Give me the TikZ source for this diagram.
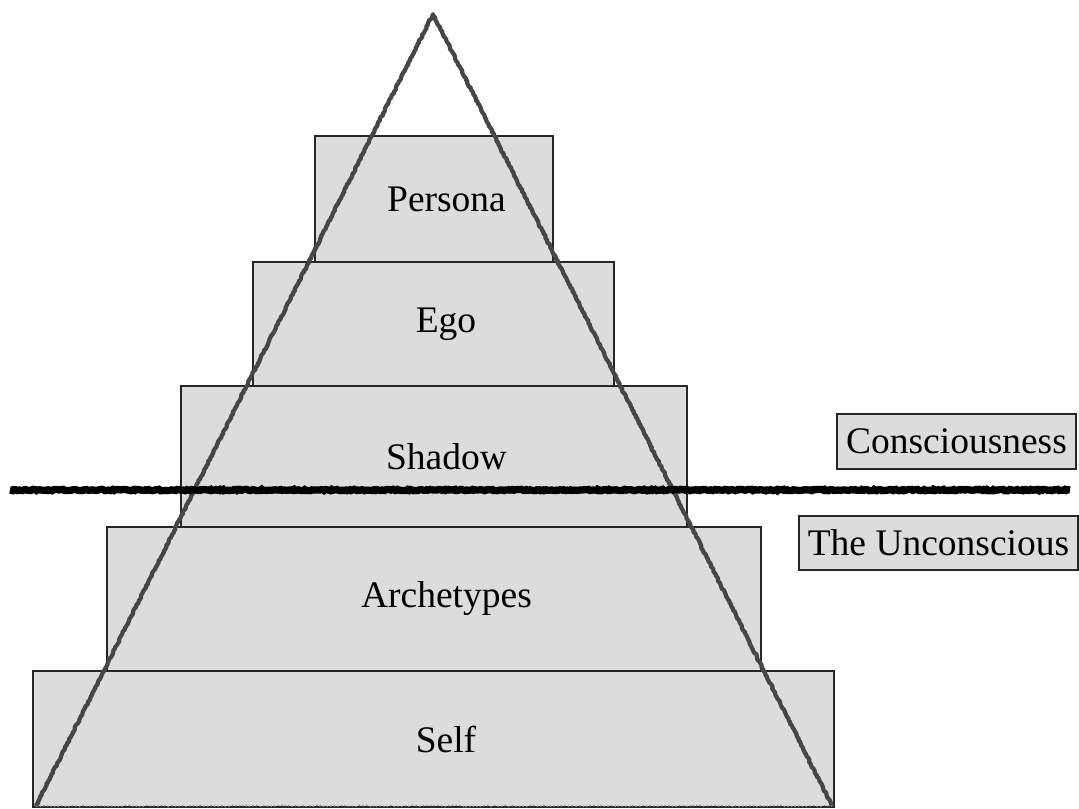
\documentclass[tikz,border=0pt]{standalone}
\usepackage{fontspec}
\setmainfont{Liberation Serif}
\usetikzlibrary{decorations.pathmorphing}
\definecolor{boxgray}{RGB}{220,220,220}
\definecolor{edgegray}{RGB}{70,70,70}
\newcommand{\shifted}[1]{\raisebox{-0.12cm}{\hspace*{0.75cm}#1}}
\tikzset{
  layer/.style={draw=black!85, line width=1.1pt, fill=boxgray, inner sep=0pt,
    font=\fontsize{32}{38}\selectfont},
  tag/.style={layer, line width=1.1pt},
  rough/.style={decorate, decoration={random steps, segment length=1.5pt, amplitude=0.6pt}},
}
\begin{document}
\begin{tikzpicture}[x=0.03cm, y=-0.03cm]
  \useasboundingbox (0,0) rectangle (1079,809);

  % the layers, from the bottom up
  \node[layer, minimum width=24.03cm, minimum height=4.08cm] (self) at (433.5,739) {\shifted{Self}};
  \node[layer, minimum width=19.62cm, minimum height=4.32cm] (archetypes) at (434,599) {\shifted{Archetypes}};
  \node[layer, minimum width=15.18cm, minimum height=4.23cm] (shadow) at (434,456.5) {\raisebox{-0.1cm}{\shifted{Shadow}}};
  \node[layer, minimum width=10.83cm, minimum height=3.72cm] (ego) at (433.5,324) {\shifted{Ego}};
  \node[layer, minimum width=7.14cm, minimum height=3.78cm] (persona) at (434,199) {\shifted{Persona}};

  % the pyramid
  \coordinate (apex) at (433,14);
  \coordinate (baseL) at (36,806);
  \coordinate (baseR) at (832,806);
  \draw[rough, edgegray, line width=3.6pt, line join=round] (baseL) -- (apex) -- (baseR);
  \draw[rough, black!45, line width=1.2pt, dotted] (baseL) -- (baseR);

  % the threshold
  \coordinate (lineL) at (10,490);
  \coordinate (lineR) at (1070,490);
  \draw[rough, black, line width=6.2pt] (lineL) -- (lineR);

  \node[tag, minimum width=7.17cm, minimum height=1.65cm] (conscious) at (956.5,441.5) {Consciousness};
  \node[tag, minimum width=8.37cm, minimum height=1.62cm] (unconscious) at (938.5,543) {The Unconscious};
\end{tikzpicture}
\end{document}
